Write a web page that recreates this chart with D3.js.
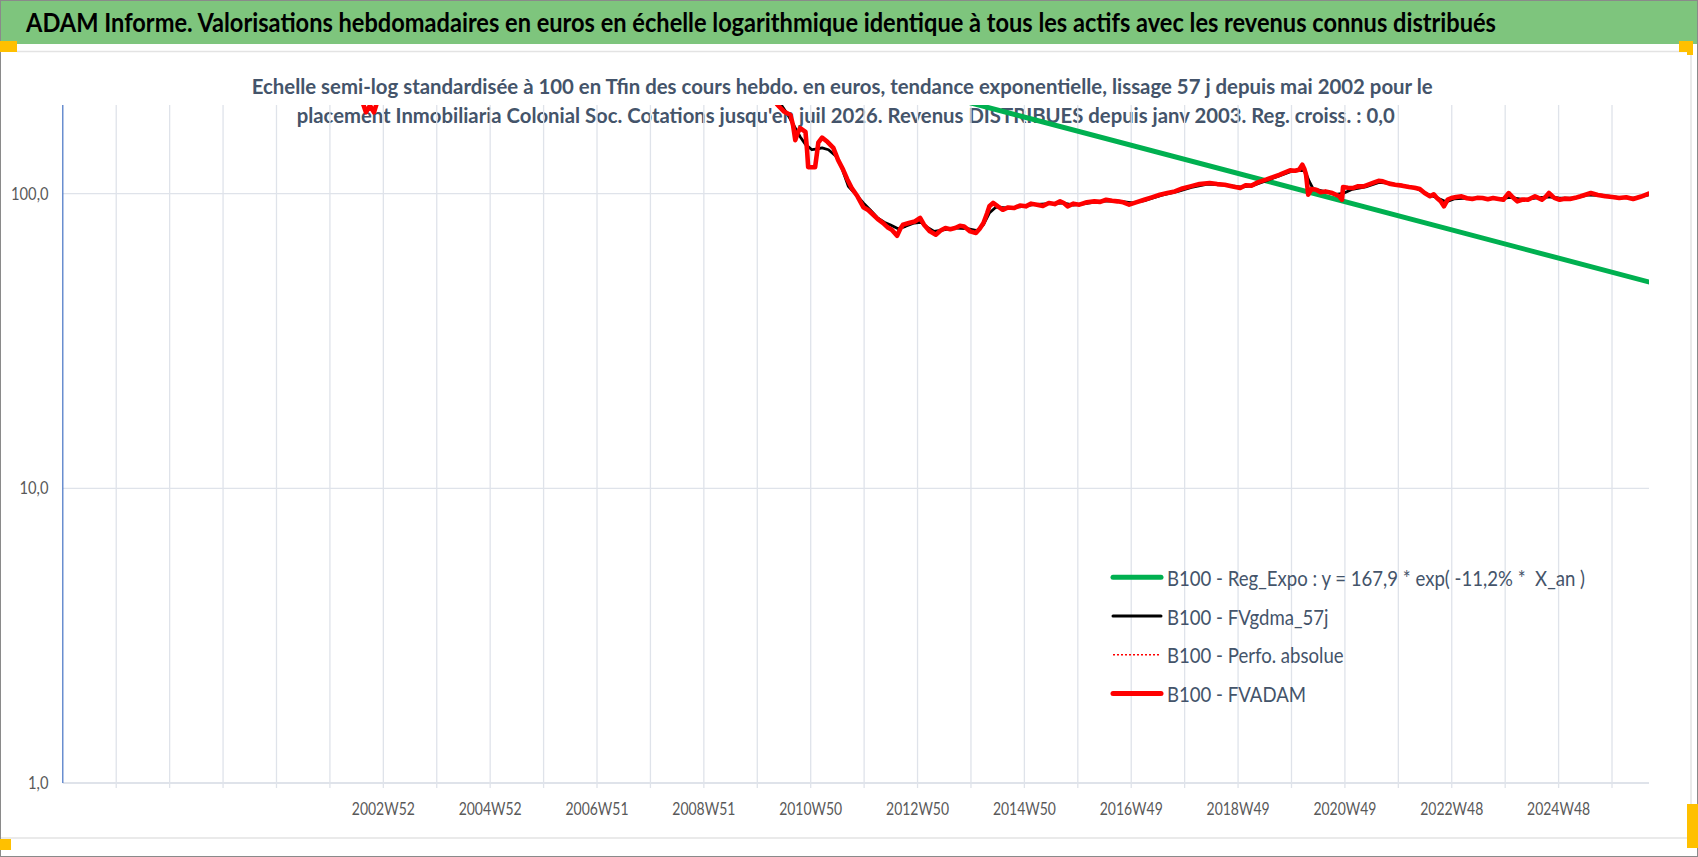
<!DOCTYPE html>
<html>
<head>
<meta charset="utf-8">
<script src="https://cdn.jsdelivr.net/npm/d3@7"></script>
<style>
  html, body { margin: 0; padding: 0; background: #fff; }
  svg { display: block; }
</style>
</head>
<body>
<svg id="chart"></svg>
<script>
// --- texts ---
const titleText = "ADAM Informe. Valorisations hebdomadaires en euros en échelle logarithmique identique à tous les actifs avec les revenus connus distribués";
const subtitleLines = [
  "Echelle semi-log standardisée à 100 en Tfin des cours hebdo. en euros, tendance exponentielle, lissage 57 j depuis mai 2002 pour le",
  "placement Inmobiliaria Colonial Soc. Cotations jusqu'en juil 2026. Revenus DISTRIBUES depuis janv 2003. Reg. croiss. : 0,0"
];
const legendLabels = [
  "B100 - Reg_Expo : y = 167,9 * exp( -11,2% *  X_an )",
  "B100 - FVgdma_57j",
  "B100 - Perfo. absolue",
  "B100 - FVADAM"
];

// --- axes ---
const weekRange = ["1997W01", "2026W32"]; // first / last category of the axis
const tickLabels = ["2002W52", "2004W52", "2006W51", "2008W51", "2010W50", "2012W50",
                    "2014W50", "2016W49", "2018W49", "2020W49", "2022W48", "2024W48"];
const yTicks = [1, 10, 100];
const yMax = 200;

// --- series: [decimal year, value base 100] ---
const regExpo = [[2002.37, 730], [2026.58, 50.2]];

const fvgdma = [
  [2002.40, 240], [2003.2, 255], [2004.0, 350], [2005.0, 560], [2006.0, 900], [2006.9, 1350],
  [2007.5, 1300], [2008.2, 700], [2008.8, 400], [2009.4, 280], [2010.0, 245], [2010.32, 210],
  [2010.50, 188], [2010.62, 172], [2010.75, 156], [2010.85, 147], [2010.97, 141], [2011.08, 142],
  [2011.16, 143], [2011.28, 141], [2011.42, 134], [2011.53, 122], [2011.65, 106], [2011.80, 99],
  [2011.93, 93], [2012.06, 88], [2012.19, 83], [2012.32, 80], [2012.43, 78.5], [2012.58, 76],
  [2012.72, 77.5], [2012.88, 79.5], [2013.0, 80], [2013.12, 77], [2013.25, 74.5], [2013.45, 75.5],
  [2013.65, 76.5], [2013.85, 76.2], [2014.05, 75], [2014.17, 78.5], [2014.28, 86], [2014.40, 90],
  [2014.6, 89.5], [2014.85, 90.2], [2015.1, 91.8], [2015.4, 92.5], [2015.65, 93], [2015.85, 91.5],
  [2016.1, 92.8], [2016.4, 94.5], [2016.7, 94.3], [2016.95, 93], [2017.2, 95], [2017.5, 98.8],
  [2017.8, 101.8], [2018.05, 105], [2018.35, 107.8], [2018.7, 107], [2018.98, 105.2], [2019.2, 106.6],
  [2019.45, 110.8], [2019.7, 115.2], [2019.9, 118.8], [2020.08, 120], [2020.17, 119.5], [2020.25, 110],
  [2020.32, 104], [2020.5, 102], [2020.75, 99.5], [2020.9, 100.5], [2021.05, 103.5], [2021.3, 105.5],
  [2021.55, 109.2], [2021.75, 108.5], [2022.0, 106.2], [2022.25, 104.2], [2022.45, 99.8], [2022.65, 96.5],
  [2022.8, 93.8], [2022.95, 96], [2023.2, 96.6], [2023.5, 96.4], [2023.8, 96], [2024.0, 97.2],
  [2024.25, 95.4], [2024.5, 96.8], [2024.7, 97.5], [2024.9, 96.8], [2025.2, 96.6], [2025.45, 99],
  [2025.7, 98.8], [2026.0, 97.2], [2026.3, 96.6], [2026.58, 99]
];

const fvadam = [
  [2002.37, 232], [2002.47, 224], [2002.55, 214], [2002.65, 189], [2002.725, 199], [2002.80, 189],
  [2002.90, 216], [2003.10, 245], [2003.50, 290], [2004.00, 360], [2004.60, 470], [2005.20, 640],
  [2005.80, 850], [2006.40, 1150], [2006.90, 1450], [2007.30, 1500], [2007.70, 1100], [2008.20, 650],
  [2008.70, 380], [2009.20, 280], [2009.70, 250], [2010.10, 235], [2010.32, 201], [2010.45, 190],
  [2010.57, 185], [2010.62, 170], [2010.66, 152], [2010.70, 160], [2010.75, 167], [2010.85, 162],
  [2010.88, 140], [2010.90, 123], [2011.03, 123], [2011.06, 135], [2011.09, 149], [2011.16, 155],
  [2011.26, 150], [2011.37, 143], [2011.46, 130], [2011.55, 121], [2011.63, 112], [2011.72, 104],
  [2011.82, 98], [2011.93, 90], [2012.02, 88], [2012.11, 85], [2012.20, 82], [2012.30, 79.5],
  [2012.38, 77], [2012.46, 75.5], [2012.56, 72], [2012.62, 76], [2012.67, 78.5], [2012.78, 79.5],
  [2012.89, 80.5], [2012.99, 82.7], [2013.06, 78.5], [2013.17, 74.5], [2013.28, 72.6], [2013.37, 75],
  [2013.46, 76.5], [2013.55, 75.8], [2013.64, 76.5], [2013.73, 77.8], [2013.81, 77.4], [2013.92, 74.5],
  [2014.03, 73.6], [2014.10, 76], [2014.17, 79.5], [2014.24, 86], [2014.28, 90.6], [2014.35, 93.0],
  [2014.44, 90.5], [2014.53, 88.2], [2014.63, 89.8], [2014.74, 89.4], [2014.85, 91.2], [2014.96, 90.6],
  [2015.06, 92.5], [2015.17, 91.8], [2015.28, 90.8], [2015.39, 93.0], [2015.50, 92.2], [2015.60, 94.2],
  [2015.67, 93], [2015.74, 90.6], [2015.85, 92.5], [2015.96, 91.8], [2016.10, 93.5], [2016.24, 94.2],
  [2016.35, 93.8], [2016.46, 95.4], [2016.57, 94.6], [2016.67, 94.2], [2016.78, 93.5], [2016.89, 91.8],
  [2017.03, 93.6], [2017.17, 95.4], [2017.31, 97.2], [2017.46, 99.2], [2017.60, 100.5], [2017.74, 101.8],
  [2017.88, 104.2], [2018.03, 105.9], [2018.20, 107.8], [2018.39, 108.7], [2018.53, 107.8], [2018.67, 107.3],
  [2018.82, 105.8], [2018.96, 104.6], [2019.06, 106.8], [2019.17, 106.5], [2019.30, 109.5], [2019.44, 111.6],
  [2019.57, 113.8], [2019.70, 116.0], [2019.80, 118.2], [2019.89, 120.0], [2019.98, 119.6], [2020.06, 120.6],
  [2020.12, 125.5], [2020.16, 121], [2020.19, 116.0], [2020.23, 99.2], [2020.29, 103.7], [2020.38, 103.2],
  [2020.46, 101.2], [2020.55, 101.8], [2020.68, 100.5], [2020.81, 98.0], [2020.86, 95.4], [2020.88, 105.4],
  [2020.97, 104.8], [2021.07, 104.6], [2021.16, 106], [2021.26, 105.9], [2021.36, 107.5], [2021.46, 109.2],
  [2021.54, 110.6], [2021.62, 110.1], [2021.74, 108.2], [2021.85, 107.3], [2021.98, 106.5], [2022.11, 105.4],
  [2022.21, 104.8], [2022.31, 103.7], [2022.40, 100.5], [2022.50, 98.0], [2022.57, 99.5], [2022.63, 96.7],
  [2022.70, 94.2], [2022.76, 90.6], [2022.83, 95.5], [2022.90, 96.7], [2022.99, 97.5], [2023.09, 98.0],
  [2023.19, 96.5], [2023.29, 95.9], [2023.38, 96.8], [2023.48, 96.7], [2023.58, 95.8], [2023.68, 96.7],
  [2023.78, 96.0], [2023.87, 95.4], [2023.97, 100.5], [2024.05, 97.0], [2024.13, 94.2], [2024.23, 95.6],
  [2024.33, 95.4], [2024.46, 98.0], [2024.53, 96.6], [2024.59, 95.4], [2024.66, 97.6], [2024.72, 100.5],
  [2024.82, 96.8], [2024.92, 95.4], [2025.01, 96.2], [2025.11, 95.9], [2025.21, 96.8], [2025.31, 98.0],
  [2025.40, 99.2], [2025.50, 100.5], [2025.63, 99.0], [2025.77, 98.0], [2025.90, 97.4], [2026.03, 96.7],
  [2026.16, 97.3], [2026.29, 95.9], [2026.44, 97.8], [2026.58, 100]
];
// perfo absolue coincides with FVADAM (hidden under it)
const perfoAbsolue = fvadam;

// --- helpers ---
const isoWeek = (s) => {
  const [yr, wk] = s.split("W").map(Number);
  const jan4 = new Date(Date.UTC(yr, 0, 4));
  const dow = (jan4.getUTCDay() + 6) % 7;
  return new Date(Date.UTC(yr, 0, 4 - dow + (wk - 1) * 7));
};
const yearToDate = (t) => {
  const yr = Math.floor(t);
  return new Date(Date.UTC(yr, 0, 1) + (t - yr) * 365.25 * 864e5);
};
const fit = (sel, w) => sel.attr("textLength", w).attr("lengthAdjust", "spacingAndGlyphs");

const W = 1698, H = 857;
const plot = { left: 62.8, right: 1649, top: 105, bottom: 783 };
const FONT = "Lato, 'Open Sans', sans-serif";

const svg = d3.select("#chart").attr("width", W).attr("height", H)
  .style("font-family", FONT);

const x = d3.scaleUtc().domain(weekRange.map(isoWeek)).range([plot.left, plot.right]);
const y = d3.scaleLog().domain([1, yMax]).range([plot.bottom, plot.top]);

// background + frame
svg.append("rect").attr("width", W).attr("height", H).attr("fill", "#fff");
svg.append("rect").attr("x", 0).attr("y", 0).attr("width", W).attr("height", 44).attr("fill", "#7ec57d");
svg.append("line").attr("x1", 17).attr("x2", 1691).attr("y1", 51.5).attr("y2", 51.5)
  .attr("stroke", "#e3e3e3").attr("stroke-width", 1.5);
svg.append("line").attr("x1", 0).attr("x2", 1691).attr("y1", 838).attr("y2", 838)
  .attr("stroke", "#e3e3e3").attr("stroke-width", 1.5);
svg.append("line").attr("x1", 1691).attr("x2", 1691).attr("y1", 51).attr("y2", 838)
  .attr("stroke", "#e3e3e3").attr("stroke-width", 1.5);
svg.append("rect").attr("x", 0.5).attr("y", 0.5).attr("width", W - 1).attr("height", H - 1)
  .attr("fill", "none").attr("stroke", "#8a8a8a").attr("stroke-width", 1);

// orange corner handles
const handles = [[0, 41, 17, 11], [1679, 41, 14, 11], [1687, 41, 6, 14], [0, 839, 11, 11], [1687, 804, 11, 44]];
svg.selectAll("rect.handle").data(handles).join("rect").attr("class", "handle")
  .attr("x", d => d[0]).attr("y", d => d[1]).attr("width", d => d[2]).attr("height", d => d[3])
  .attr("fill", "#ffc000");

// title
svg.append("text").attr("x", 26).attr("y", 31.5)
  .attr("font-size", 26.5).attr("font-weight", 700).attr("fill", "#000")
  .text(titleText).call(fit, 1470);

// subtitle
const subX = [[251.7, 1181], [296.7, 1098]];
svg.selectAll("text.sub").data(subtitleLines).join("text").attr("class", "sub")
  .attr("x", (d, i) => subX[i][0]).attr("y", (d, i) => 93.5 + i * 29.5)
  .attr("font-size", 21.5).attr("font-weight", 700).attr("fill", "#44546a")
  .text(d => d)
  .each(function (d, i) { d3.select(this).call(fit, subX[i][1]); });

// gridlines
const gridDates = d3.range(1, 40).map(k => d3.utcDay.offset(x.domain()[0], 364 * k))
  .filter(d => d < x.domain()[1]);
const grid = svg.append("g");
grid.selectAll("line.v").data(gridDates).join("line").attr("class", "v")
  .attr("x1", d => x(d)).attr("x2", d => x(d))
  .attr("y1", plot.top).attr("y2", plot.bottom + 5)
  .attr("stroke", "#dfe3ea").attr("stroke-width", 1.3);
grid.selectAll("line.h").data(yTicks).join("line").attr("class", "h")
  .attr("x1", plot.left).attr("x2", plot.right)
  .attr("y1", d => y(d)).attr("y2", d => y(d))
  .attr("stroke", "#dfe3ea").attr("stroke-width", d => d === 1 ? 2 : 1.3);

// y axis line
svg.append("line").attr("x1", plot.left).attr("x2", plot.left)
  .attr("y1", plot.top).attr("y2", plot.bottom)
  .attr("stroke", "#4472c4").attr("stroke-width", 1.2);

// y tick labels
svg.selectAll("text.ytick").data(yTicks).join("text").attr("class", "ytick")
  .attr("x", 48.5).attr("y", d => y(d) + 6)
  .attr("text-anchor", "end").attr("font-size", 17.5).attr("fill", "#595959")
  .text(d => d3.format(".1f")(d).replace(".", ","))
  .each(function () {
    d3.select(this).call(fit, this.getComputedTextLength() * 0.84);
  });

// x tick labels
svg.selectAll("text.xtick").data(tickLabels).join("text").attr("class", "xtick")
  .attr("x", d => x(isoWeek(d))).attr("y", 815)
  .attr("text-anchor", "middle").attr("font-size", 18).attr("fill", "#595959")
  .text(d => d).call(fit, 63);

// series
svg.append("clipPath").attr("id", "plotclip").append("rect")
  .attr("x", plot.left).attr("y", plot.top)
  .attr("width", plot.right - plot.left).attr("height", plot.bottom - plot.top);

const line = d3.line().x(d => x(yearToDate(d[0]))).y(d => y(d[1]));
const series = [
  { data: regExpo, color: "#00b050", width: 5, dash: null },
  { data: fvgdma, color: "#000", width: 2.8, dash: null },
  { data: perfoAbsolue, color: "#ff0000", width: 1.5, dash: "2,2" },
  { data: fvadam, color: "#ff0000", width: 4.6, dash: null }
];
const plotG = svg.append("g").attr("clip-path", "url(#plotclip)");
plotG.selectAll("path").data(series).join("path")
  .attr("d", d => line(d.data))
  .attr("fill", "none")
  .attr("stroke", d => d.color)
  .attr("stroke-width", d => d.width)
  .attr("stroke-dasharray", d => d.dash)
  .attr("stroke-linejoin", "round")
  .attr("stroke-linecap", "round");

// legend
const legendY = (i) => 577.3 + i * 38.7;
const leg = svg.append("g");
leg.selectAll("line").data(series).join("line")
  .attr("x1", 1113).attr("x2", 1161)
  .attr("y1", (d, i) => legendY(i)).attr("y2", (d, i) => legendY(i))
  .attr("stroke", d => d.color)
  .attr("stroke-width", (d, i) => i === 2 ? 1.5 : (i === 1 ? 3 : 5))
  .attr("stroke-dasharray", d => d.dash)
  .attr("stroke-linecap", (d, i) => i === 2 ? "butt" : "round");
const legText = leg.selectAll("text").data(legendLabels).join("text")
  .attr("x", 1167).attr("y", (d, i) => legendY(i) + 8.5)
  .attr("font-size", 20.5).attr("fill", "#44546a")
  .style("white-space", "pre")
  .text(d => d);
// same squeeze for every entry, set so "B100 - FVADAM" is 139px wide
const squeeze = 139 / legText.nodes()[3].getComputedTextLength();
legText.each(function () {
  d3.select(this).call(fit, this.getComputedTextLength() * squeeze);
});
</script>
</body>
</html>
